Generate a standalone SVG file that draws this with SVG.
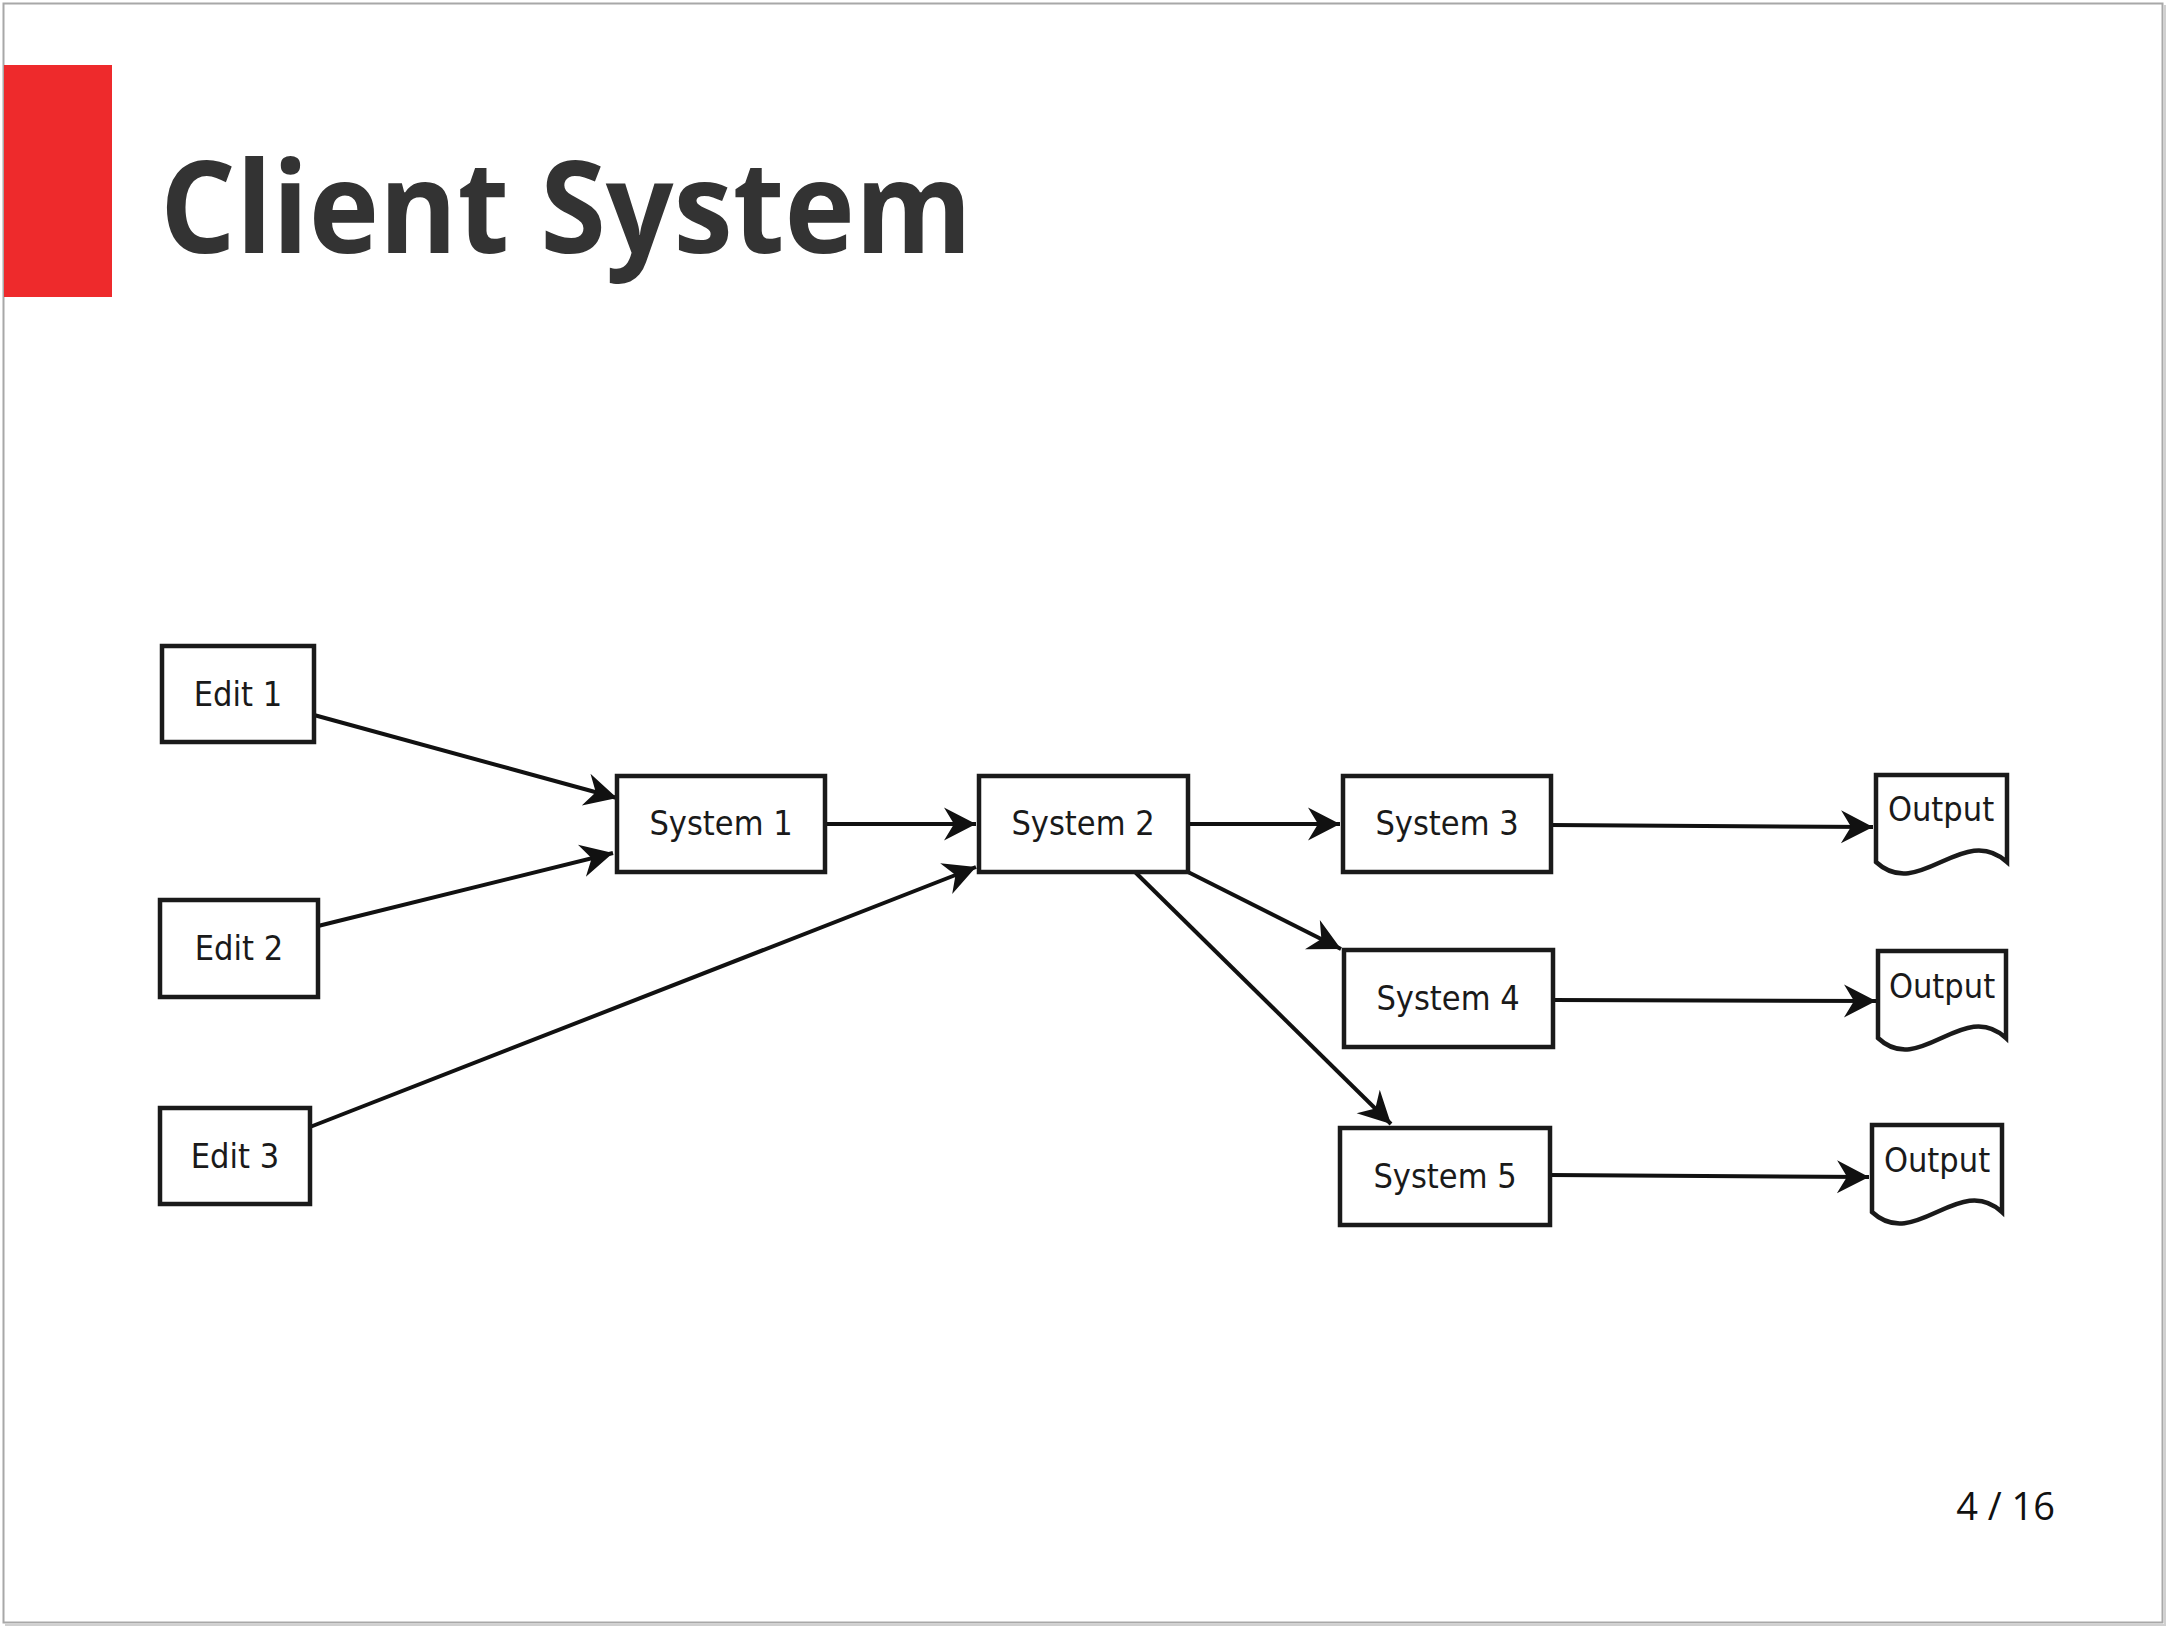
<svg xmlns="http://www.w3.org/2000/svg" width="2168" height="1629" viewBox="0 0 2168 1629">
<style>
.box{fill:#fff;stroke:#1a1a1a;stroke-width:4.5}
.lbl{font-family:"DejaVu Sans Condensed","DejaVu Sans",sans-serif;font-stretch:condensed;font-size:34px;fill:#1a1a1a;text-anchor:middle}
.con{fill:none;stroke:#111;stroke-width:4}
</style>
<defs>
<marker id="arr" markerUnits="userSpaceOnUse" markerWidth="44" markerHeight="44" viewBox="-36 -22 44 44" refX="0" refY="0" orient="auto">
<path d="M0,0 L-32,-16.5 L-22,0 L-32,16.5 Z" fill="#111"/>
</marker>
</defs>
<rect x="0" y="0" width="2168" height="1629" fill="#fff"/>
<rect x="3.5" y="3.5" width="2159" height="1619" fill="none" stroke="#a8a8a8" stroke-width="2"/>
<line x1="2165" y1="5" x2="2165" y2="1626" stroke="#d0d0d0" stroke-width="2"/>
<line x1="5" y1="1625" x2="2166" y2="1625" stroke="#d0d0d0" stroke-width="2"/>
<rect x="4" y="65" width="108" height="232" fill="#ee2a2c"/>
<text x="160" y="253" font-family="'Open Sans',sans-serif" font-weight="bold" font-size="128" fill="#333" textLength="812" lengthAdjust="spacingAndGlyphs">Client System</text>
<text x="2055" y="1520" font-family="'Open Sans',sans-serif" font-size="38" fill="#111" text-anchor="end">4 / 16</text>
<g id="connectors">
<path class="con" marker-end="url(#arr)" d="M314,715 L617,798"/>
<path class="con" marker-end="url(#arr)" d="M318,926 L613,853"/>
<path class="con" marker-end="url(#arr)" d="M310,1127 L976,867"/>
<path class="con" marker-end="url(#arr)" d="M825,824 L976,824"/>
<path class="con" marker-end="url(#arr)" d="M1188,824 L1340,824"/>
<path class="con" marker-end="url(#arr)" d="M1188,872 L1341,949"/>
<path class="con" marker-end="url(#arr)" d="M1135,872 L1391,1124"/>
<path class="con" marker-end="url(#arr)" d="M1551,825 L1873,827"/>
<path class="con" marker-end="url(#arr)" d="M1553,1000 L1876,1001"/>
<path class="con" marker-end="url(#arr)" d="M1550,1175 L1869,1177"/>
</g>
<g id="edit1"><rect class="box" x="162" y="646" width="152" height="96"/><text class="lbl" x="238" y="706">Edit 1</text></g>
<g id="edit2"><rect class="box" x="160" y="900" width="158" height="97"/><text class="lbl" x="239" y="960">Edit 2</text></g>
<g id="edit3"><rect class="box" x="160" y="1108" width="150" height="96"/><text class="lbl" x="235" y="1168">Edit 3</text></g>
<g id="system1"><rect class="box" x="617" y="776" width="208" height="96"/><text class="lbl" x="721" y="835">System 1</text></g>
<g id="system2"><rect class="box" x="979" y="776" width="209" height="96"/><text class="lbl" x="1083" y="835">System 2</text></g>
<g id="system3"><rect class="box" x="1343" y="776" width="208" height="96"/><text class="lbl" x="1447" y="835">System 3</text></g>
<g id="system4"><rect class="box" x="1344" y="950" width="209" height="97"/><text class="lbl" x="1448" y="1010">System 4</text></g>
<g id="system5"><rect class="box" x="1340" y="1128" width="210" height="97"/><text class="lbl" x="1445" y="1188">System 5</text></g>
<g id="output1"><path class="box" d="M1876,775 H2007 V862 C1963,822 1919,902 1876,862 Z"/><text class="lbl" x="1941" y="821">Output</text></g>
<g id="output2"><path class="box" d="M1878,951 H2006 V1038 C1963,998 1920,1078 1878,1038 Z"/><text class="lbl" x="1942" y="998">Output</text></g>
<g id="output3"><path class="box" d="M1872,1125 H2002 V1212 C1959,1172 1915,1252 1872,1212 Z"/><text class="lbl" x="1937" y="1172">Output</text></g>
</svg>
